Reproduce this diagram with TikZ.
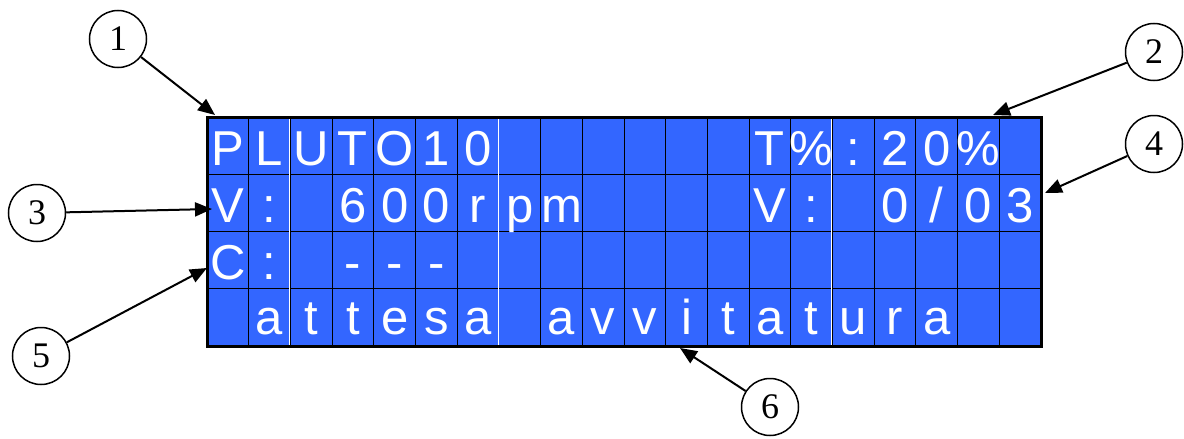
\documentclass[tikz,border=0pt]{standalone}
\usepackage{fontspec}
\setmainfont{Liberation Serif}
\newfontfamily\lcdfont{Liberation Sans}
\usetikzlibrary{arrows.meta}
\definecolor{lcdblue}{RGB}{51,102,255}

\begin{document}
\begin{tikzpicture}[x=1pt,y=-1pt,>={Triangle[length=17pt,width=14pt]},
  callout/.style={circle,draw,line width=1.5pt,minimum size=57pt,inner sep=0pt,font=\fontsize{36}{36}\selectfont},
  lcd char/.style={anchor=base,text=white,inner sep=0pt,font=\lcdfont\fontsize{49}{49}\selectfont}]
  \useasboundingbox (0,0) rectangle (1184,439);
  % display 20x4
  \fill[lcdblue] (207,117) rectangle (1041,346);
  \foreach \i in {1,...,19}
    \draw[line width=1pt] (207+\i*41.7,117) -- (207+\i*41.7,346);
  \foreach \j in {1,2,3}
    \draw[line width=1pt] (207,117+\j*57.25) -- (1041,117+\j*57.25);
  \foreach \i in {2,7,15}
    \draw[white,line width=0.8pt] (206+\i*41.7,117) -- (206+\i*41.7,346);
  \draw[line width=3pt] (207,117) rectangle (1041,346);
  % characters
  \foreach \c/\t in {0/P,1/L,2/U,3/T,4/O,5/1,6/0,13/T,14/\%,15/:,16/2,17/0,18/\%}
    \node[lcd char] (r0c\c) at (227.85+\c*41.7,165) {\t};
  \foreach \c/\t in {0/V,1/:,3/6,4/0,5/0,6/r,7/p,8/m,13/V,14/:,16/0,17/{/},18/0,19/3}
    \node[lcd char] (r1c\c) at (227.85+\c*41.7,222) {\t};
  \foreach \c/\t in {0/C,1/:,3/-,4/-,5/-}
    \node[lcd char] (r2c\c) at (227.85+\c*41.7,279) {\t};
  \foreach \c/\t in {1/a,2/t,3/t,4/e,5/s,6/a,8/a,9/v,10/v,11/i,12/t,13/a,14/t,15/u,16/r,17/a}
    \node[lcd char] (r3c\c) at (227.85+\c*41.7,334) {\t};
  % callouts
  \node[callout] (n1) at (118,39) {1};
  \node[callout] (n2) at (1154,52) {2};
  \node[callout] (n3) at (37,213) {3};
  \node[callout] (n4) at (1154,144) {4};
  \node[callout] (n5) at (41,356) {5};
  \node[callout] (n6) at (770,407) {6};
  \coordinate (p1) at (215,115);
  \coordinate (p2) at (993,115);
  \coordinate (p3) at (212,209);
  \coordinate (p4) at (1045,193);
  \coordinate (p5) at (207,268);
  \coordinate (p6) at (680,348);
  \foreach \k in {1,...,6}
    \draw[->,line width=2pt] (n\k) -- (p\k);
\end{tikzpicture}
\end{document}
